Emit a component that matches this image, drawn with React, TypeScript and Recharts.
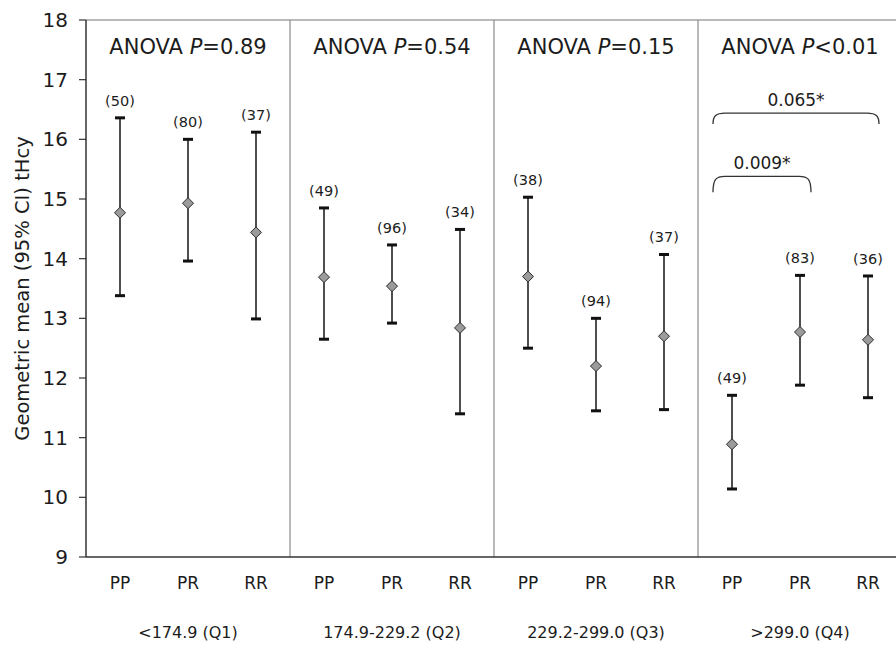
import { ComposedChart, Line, XAxis, YAxis, ErrorBar, ReferenceLine, ReferenceDot, LabelList } from "recharts";

const quartiles = ["<174.9 (Q1)", "174.9-229.2 (Q2)", "229.2-299.0 (Q3)", ">299.0 (Q4)"];
const genotypes = ["PP", "PR", "RR"];
const anovaP = ["=0.89", "=0.54", "=0.15", "<0.01"];

// geometric mean tHcy and 95% CI, PP/PR/RR within each quartile
const means = [14.77, 14.93, 14.44, 13.69, 13.54, 12.84, 13.7, 12.2, 12.7, 10.89, 12.77, 12.64];
const lower = [13.38, 13.96, 12.99, 12.65, 12.92, 11.4, 12.5, 11.45, 11.47, 10.14, 11.88, 11.67];
const upper = [16.36, 16.0, 16.12, 14.85, 14.23, 14.49, 15.03, 13.0, 14.07, 11.71, 13.72, 13.71];
const counts = [50, 80, 37, 49, 96, 34, 38, 94, 37, 49, 83, 36];

const yTicks = [9, 10, 11, 12, 13, 14, 15, 16, 17, 18];
const xTicks = means.map((_, i) => i);
const quartileTicks = [1, 4, 7, 10];
const dividers = [2.5, 5.5, 8.5];

// pairwise comparisons in Q4 (PP vs PR, PP vs RR)
const brackets = [
  { label: "0.009*", from: 9, to: 10, y: 15.38, drop: 16 },
  { label: "0.065*", from: 9, to: 11, y: 16.44, drop: 11 },
];

const data = means.map((m, i) => ({
  x: i,
  mean: m,
  lo: lower[i],
  hi: upper[i],
  ci: [m - lower[i], upper[i] - m],
  n: counts[i],
}));

const INK = "#1c1c1c";

const Diamond = (p: any) => {
  const { cx, cy, index } = p;
  if (cx == null || cy == null) return null;
  const r = 5.5;
  return (
    <path
      key={`d-${index}`}
      d={`M${cx},${cy - r}L${cx + r},${cy}L${cx},${cy + r}L${cx - r},${cy}Z`}
      fill="#9b9b9b"
      stroke="#2a2a2a"
      strokeWidth={1}
    />
  );
};

const Cap = (p: any) => {
  const { cx, cy, index } = p;
  if (cx == null || cy == null) return null;
  return <rect key={`c-${index}-${cy}`} x={cx - 5} y={cy - 1.5} width={10} height={3} fill="#111" />;
};

const AnovaLabel = (p: any) => {
  const { viewBox, value } = p;
  const x = viewBox.x + (viewBox.width || 0) / 2;
  const y = viewBox.y + (viewBox.height || 0) / 2;
  return (
    <text x={x} y={y} dy="0.36em" textAnchor="middle" fontSize={21} fill={INK}>
      ANOVA{" "}
      <tspan fontStyle="italic">P</tspan>
      {value}
    </text>
  );
};

const bracketShape = (label: string, drop: number) => (p: any) => {
  const x1 = p.x1 - 19;
  const x2 = p.x2 + 11;
  const y = p.y1;
  const d = `M${x1},${y + drop} C${x1},${y + 3} ${x1 + 3},${y} ${x1 + 12},${y} L${x2 - 12},${y} C${x2 - 3},${y} ${x2},${y + 3} ${x2},${y + drop}`;
  return (
    <g>
      <path d={d} fill="none" stroke="#333" strokeWidth={1.3} />
      <text x={(x1 + x2) / 2} y={y - 7} textAnchor="middle" fontSize={17} fill={INK}>
        {label}
      </text>
    </g>
  );
};

export default function App() {
  return (
    <div
      style={{
        position: "absolute",
        left: 0,
        top: 0,
        width: 896,
        height: 648,
        overflow: "hidden",
        background: "#fff",
        fontFamily: "'DejaVu Sans', sans-serif",
      }}
    >
      <ComposedChart width={904} height={648} data={data} margin={{ top: 20, right: 2, bottom: 0, left: 0 }}>
        <XAxis
          dataKey="x"
          type="number"
          domain={[-0.5, 11.5]}
          ticks={xTicks}
          interval={0}
          tickFormatter={(v: number) => genotypes[v % 3]}
          axisLine={{ stroke: "#333", strokeWidth: 1.5 }}
          tickLine={false}
          tickSize={6}
          tickMargin={14}
          height={44}
          tick={{ fontSize: 17, fill: INK }}
        />
        <XAxis
          xAxisId="q"
          dataKey="x"
          type="number"
          domain={[-0.5, 11.5]}
          ticks={quartileTicks}
          interval={0}
          tickFormatter={(v: number) => quartiles[(v - 1) / 3]}
          axisLine={false}
          tickLine={false}
          tickSize={6}
          tickMargin={20}
          height={47}
          tick={{ fontSize: 16, fill: INK }}
        />
        <YAxis
          domain={[9, 18]}
          ticks={yTicks}
          interval={0}
          width={86}
          tickSize={7}
          tickMargin={11}
          axisLine={{ stroke: "#333", strokeWidth: 1.5 }}
          tickLine={{ stroke: "#333", strokeWidth: 1.2 }}
          tick={{ fontSize: 20, fill: INK }}
          label={{
            value: "Geometric mean (95% CI) tHcy",
            angle: -90,
            position: "insideLeft",
            offset: 22,
            style: { textAnchor: "middle", fontSize: 19.5, fill: INK },
          }}
        />
        <ReferenceLine y={18} stroke="#777" strokeWidth={1.2} />
        {dividers.map((d) => (
          <ReferenceLine key={d} x={d} stroke="#8a8a8a" strokeWidth={1.2} />
        ))}
        {quartileTicks.map((q, i) => (
          <ReferenceDot
            key={q}
            x={q}
            y={17.56}
            r={0}
            fill="none"
            stroke="none"
            label={<AnovaLabel value={anovaP[i]} />}
          />
        ))}
        {brackets.map((b) => (
          <ReferenceLine
            key={b.label}
            segment={[
              { x: b.from, y: b.y },
              { x: b.to, y: b.y },
            ]}
            shape={bracketShape(b.label, b.drop)}
          />
        ))}
        <Line dataKey="hi" stroke="none" dot={Cap} activeDot={false} isAnimationActive={false}>
          <LabelList
            dataKey="n"
            position="top"
            offset={12}
            formatter={(v: any) => `(${v})`}
            style={{ fontSize: 14.5, fill: INK }}
          />
        </Line>
        <Line dataKey="lo" stroke="none" dot={Cap} activeDot={false} isAnimationActive={false} />
        <Line dataKey="mean" stroke="none" dot={Diamond} activeDot={false} isAnimationActive={false}>
          <ErrorBar dataKey="ci" width={0} stroke="#222" strokeWidth={1.6} direction="y" />
        </Line>
      </ComposedChart>
    </div>
  );
}
